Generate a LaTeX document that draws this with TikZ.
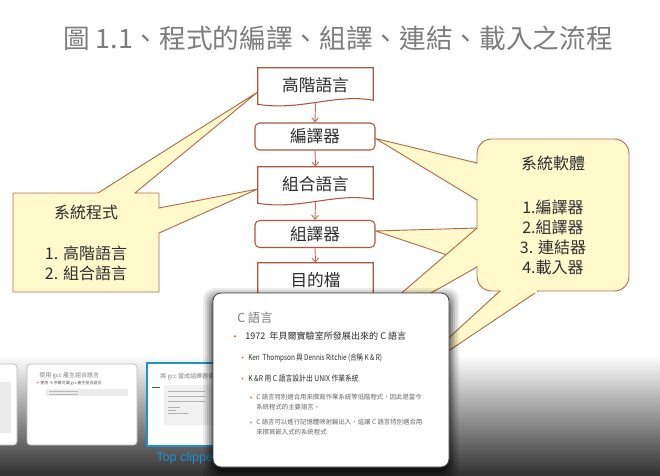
\documentclass[tikz,border=0pt]{standalone}
\usepackage{fontspec}
\setmainfont{Noto Sans CJK TC}
\newfontfamily\latinsans{Liberation Sans}
\usetikzlibrary{arrows.meta,calc}
\definecolor{boxline}{RGB}{168,88,66}
\definecolor{arrowc}{RGB}{190,112,92}
\definecolor{callfill}{RGB}{255,249,204}
\definecolor{callline}{RGB}{178,108,72}
\definecolor{titlegray}{RGB}{125,125,125}
\definecolor{txtdark}{RGB}{45,45,45}
\definecolor{thumbblue}{RGB}{28,146,206}
\definecolor{bandbot}{RGB}{48,48,48}
\definecolor{bulletc}{RGB}{222,110,60}
\definecolor{popline}{RGB}{70,70,70}
\pgfdeclarelayer{back}
\pgfdeclarelayer{bg}
\pgfsetlayers{back,bg,main}
\newcommand\docshape[1]{\path[docline] (#1.north west) -- (#1.north east) -- ($(#1.south east)+(0,-2)$) .. controls ($(#1.south east)+(-38,-9)$) and ($(#1.south west)+(42,9)$) .. ($(#1.south west)+(0,2)$) -- cycle;}
\begin{document}
\begin{tikzpicture}[x=0.75pt,y=-0.75pt,
  flowtext/.style={font=\fontsize{12.5pt}{15pt}\selectfont, text=txtdark, inner sep=0pt},
  docnode/.style={flowtext, minimum width=86.25pt, minimum height=25.5pt},
  procnode/.style={flowtext, draw=boxline, fill=white, line width=0.8pt, rounded corners=3.5pt, minimum width=90pt, minimum height=20.25pt},
  docline/.style={draw=boxline, fill=white, line width=0.8pt},
  flowarrow/.style={draw=arrowc, line width=0.7pt, -{Straight Barb[length=3pt,width=5pt]}},
  callout/.style={fill=callfill, draw=callline, line width=0.7pt, line join=miter},
  calltext/.style={font=\fontsize{12pt}{15pt}\selectfont, text=txtdark, align=center, inner sep=0pt},
  thumb/.style={fill=white, draw=gray!55, line width=0.5pt, rounded corners=2.5pt},
  thumbsel/.style={fill=white, draw=thumbblue, line width=2.2pt},
  poptitle/.style={anchor=base west, inner sep=0pt, font=\fontsize{9.3pt}{11pt}\selectfont, text=gray},
  popone/.style={anchor=base west, inner sep=0pt, font=\fontsize{6.8pt}{8pt}\selectfont, text=txtdark},
  poptwo/.style={anchor=base west, inner sep=0pt, font=\fontsize{6pt}{7pt}\selectfont, text=txtdark},
  popsub/.style={anchor=base west, inner sep=0pt, font=\fontsize{4.8pt}{6pt}\selectfont, text=gray!80!black},
  tinytext/.style={anchor=base west, inner sep=0pt, text=gray}
]
\useasboundingbox (0,0) rectangle (660,475);
\begin{pgfonlayer}{back}
\fill[white] (0,0) rectangle (660,475);
\shade[top color=white, bottom color=bandbot] (0,355) rectangle (660,475.5);
\end{pgfonlayer}

% title
\node[font=\fontsize{20pt}{24pt}\selectfont, text=titlegray, inner sep=0pt] (title) at (338,38) {圖 1.1、程式的編譯、組譯、連結、載入之流程};

% flow chart
\node[docnode] (hl) at (315.5,85) {高階語言};
\node[procnode] (cc) at (315,136.5) {編譯器};
\node[docnode] (al) at (315.5,184) {組合語言};
\node[procnode] (as) at (315,234) {組譯器};
\node[docnode] (ob) at (315.5,280) {目的檔};
\draw[flowarrow] (hl.south) -- (cc.north);
\draw[flowarrow] (cc.south) -- (al.north);
\draw[flowarrow] (al.south) -- (as.north);
\draw[flowarrow] (as.south) -- (ob.north);

\begin{pgfonlayer}{bg}
% left callout
\coordinate (lt1) at ($(hl.west)+(0,7)$);
\coordinate (lt2) at ($(al.west)+(0,5)$);
\path[callout] (13,193) -- (98,193) -- (lt1) -- (135,193) -- (159,193) -- (159,208) -- (lt2) -- (159,233) -- (159,292) -- (13,292) -- cycle;
% right callout
\coordinate (rt1) at ($(cc.east)+(0,2)$);
\coordinate (rt2) at ($(as.east)+(0,-3)$);
\coordinate (rt3) at (346,341);
\coordinate (rt4) at (396,386);
\path[callout] (rt2) -- (477,228) -- (477,265) -- cycle;
\path[callout] (rt3) -- (477,228) -- (477,267) -- cycle;
\path[callout] (rt1) -- (477,163) -- (477,200) -- cycle;
\path[callout] (rt4) -- (500,291) -- (538,291) -- cycle;
\path[callout, rounded corners=11pt] (477,139) rectangle (629,291);
\fill[callfill] (475.8,163.9) rectangle (478.6,199.2);
\fill[callfill] (475.8,228.9) rectangle (478.6,266.2);
\fill[callfill] (500.9,289.8) rectangle (537.2,292.6);
% document shapes
\docshape{hl}
\docshape{al}
\docshape{ob}
\end{pgfonlayer}

\node[calltext] (sysprog) at (86,242.5) {系統程式\\[15.75pt]1. 高階語言\\2. 組合語言};
\node[calltext] (syssoft) at (553,215) {系統軟體\\[18pt]1.編譯器\\2.組譯器\\3. 連結器\\4.載入器};

% thumbnails
\path[thumb] (-6,364) rectangle (17,445);
\fill[gray!16] (-3,382) rectangle (11,433);
\path[thumb] (27,364) rectangle (137,445);
\node[tinytext, font=\fontsize{4.5pt}{5pt}\selectfont] (t2title) at (39,377) {使用 gcc 產生組合語言};
\fill[bulletc] (37.5,382.5) circle (0.8);
\node[tinytext, font=\fontsize{3pt}{4pt}\selectfont, text=gray!70!black] (t2b) at (40,384) {使用 -S 參數可讓 gcc 產生組合語言};
\fill[gray!15] (46,389) rectangle (128,396);
\draw[gray!55, line width=0.4pt] (49,391.3) -- (78,391.3) (49,393.8) -- (78,393.8);
\path[thumbsel] (147,363) rectangle (240,446);
\node[tinytext, font=\fontsize{4.5pt}{5pt}\selectfont] (t3title) at (160,378) {將 gcc 當成組譯器使用};
\draw[gray!70!black, line width=0.5pt] (152,387) -- (160,387) (166,387) -- (185,387);
\fill[gray!12] (164,385) rectangle (240,425);
\draw[gray!60, line width=0.4pt] (168,391) -- (205,391) (168,396) -- (205,396) (168,401) -- (205,401) (168,407) -- (180,407) (168,410) -- (176,410) (168,413) -- (188,413);
\node[anchor=base west, inner sep=0pt, font=\latinsans\fontsize{9.5pt}{11pt}\selectfont, text=thumbblue] (clip) at (156,461.7) {Top clipped};

% popup shadow
\foreach \i/\o in {10/0.07,8/0.09,6/0.12,4/0.16,2/0.22,0/0.35}{
  \fill[black, opacity=\o, rounded corners=8pt] (213-\i,293-\i+5) rectangle (449+\i,467+\i+5);
}
% popup
\path[fill=white, draw=popline, line width=0.6pt, rounded corners=6pt] (213,293) rectangle (449,467);
\node[poptitle] (ptitle) at (237,322.5) {C 語言};
\fill[bulletc] (235,336.3) circle (1.3);
\node[popone] (p1) at (245,339.5) {1972\ \ 年貝爾實驗室所發展出來的 C 語言};
\fill[bulletc] (242.5,357.6) circle (1.1);
\node[poptwo] (p2) at (248,360.3) {\scalebox{0.8}[1]{Ken\ \ Thompson 與 Dennis Ritchie (合稱 K \& R)}};
\fill[bulletc] (242.5,378.6) circle (1.1);
\node[poptwo] (p3) at (248,381.3) {\scalebox{0.85}[1]{K \&R 用 C 語言設計出 UNIX 作業系統}};
\draw[bulletc!70, line width=0.4pt] (251,397.5) circle (0.9);
\node[popsub] (p4a) at (256,399.5) {C 語言特別適合用來撰寫作業系統等低階程式，因此是當今};
\node[popsub] (p4b) at (256,409) {系統程式的主要語言。};
\draw[bulletc!70, line width=0.4pt] (251,422.5) circle (0.9);
\node[popsub] (p5a) at (256,424.5) {C 語言可以進行記憶體映射輸出入，這讓 C 語言特別適合用};
\node[popsub] (p5b) at (256,434) {來撰寫嵌入式的系統程式};
\end{tikzpicture}
\end{document}
